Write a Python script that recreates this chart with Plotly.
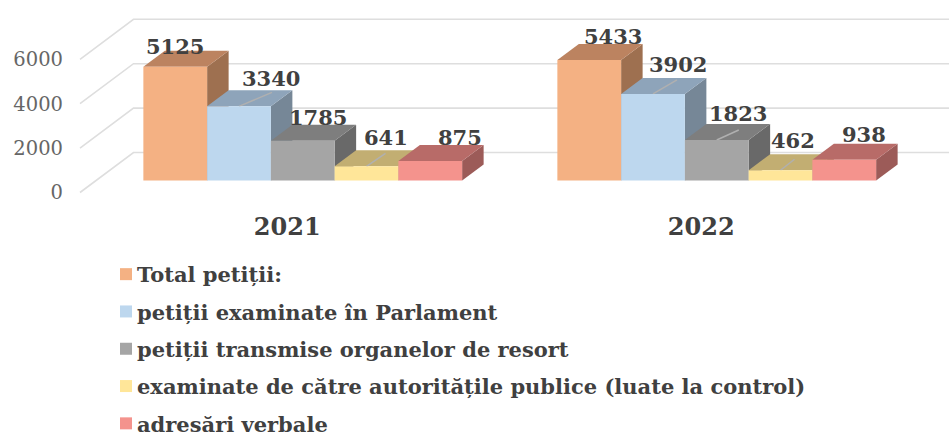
import plotly.graph_objects as go

years = ["2021", "2022"]
series_names = [
    "Total petiții:",
    "petiții examinate în Parlament",
    "petiții transmise organelor de resort",
    "examinate de către autoritățile publice (luate la control)",
    "adresări verbale",
]
total = [5125, 5433]
parlament = [3340, 3902]
resort = [1785, 1823]
autoritati = [641, 462]
verbale = [875, 938]
series_values = [total, parlament, resort, autoritati, verbale]
y_ticks = [0, 2000, 4000, 6000]

front_colors = ["#F4B183", "#BDD7EE", "#A5A5A5", "#FFE699", "#F4938D"]
top_colors = ["#BC8360", "#8EA4BA", "#7E7E7E", "#C2AE72", "#B86B68"]
side_colors = ["#9E7050", "#768797", "#696969", "#A5925F", "#9C5B58"]

# label nudges in px, per series and year
label_dx = [[0, 24], [32, 25], [15, 21], [19, 12], [30, 20]]
label_dy = [[20, 23], [28, 29], [23, 27], [29, 30], [24, 25]]
# stray grey strokes on bar tops (px length), per series and year
streak_dx = [[0, 0], [33, 24], [0, 22], [19, 14], [0, 0]]
streak_dy = [[0, 0], [14, 14], [0, 10], [13, 11], [0, 0]]

W, H = 949, 439
LEFT, PLOT_BOTTOM = 64, 210
PX_PER_UNIT_X = 414.0
PX_PER_VALUE = 0.0222
CENTER0_PX = 302.75
ZERO_PX = 192.5

xr = [(LEFT - CENTER0_PX) / PX_PER_UNIT_X, (W - CENTER0_PX) / PX_PER_UNIT_X]
yr = [(ZERO_PX - PLOT_BOTTOM) / PX_PER_VALUE, ZERO_PX / PX_PER_VALUE]

def ux(px):
    return px / PX_PER_UNIT_X

def uy(px):
    return px / PX_PER_VALUE

bargap = 0.23
bw = (1 - bargap) / 5
floor_base = uy(12)
DX, DY = ux(21.5), uy(16)

shapes = []
# walls: oblique then horizontal gridlines
wall_dx, wall_dy = ux(53.5), uy(40)
for t in y_ticks:
    x0 = xr[0] + ux(16)
    shapes.append(dict(
        type="path", layer="below",
        path=f"M{x0},{t} L{x0 + wall_dx},{t + wall_dy} L{xr[1]},{t + wall_dy}",
        line=dict(color="#DEDEDE", width=1.6),
    ))

annotations = []
for gi in range(len(years)):
    for si, vals in enumerate(series_values):
        v = vals[gi]
        xl = gi + (si - 2.5) * bw
        xrr = xl + bw
        yb, yt = floor_base, floor_base + v
        shapes.append(dict(
            type="path", layer="below", line=dict(width=0), fillcolor=side_colors[si],
            path=f"M{xrr},{yb} L{xrr + DX},{yb + DY} L{xrr + DX},{yt + DY} L{xrr},{yt} Z",
        ))
        shapes.append(dict(
            type="path", layer="below", line=dict(width=0), fillcolor=top_colors[si],
            path=f"M{xl},{yt} L{xl + DX},{yt + DY} L{xrr + DX},{yt + DY} L{xrr},{yt} Z",
        ))
        if streak_dx[si][gi]:
            xc = xl + bw / 2
            shapes.append(dict(
                type="line", layer="below", x0=xc, y0=yt,
                x1=xc + ux(streak_dx[si][gi]), y1=yt + uy(streak_dy[si][gi]),
                line=dict(color="#B0B0B0", width=1.5),
            ))
        annotations.append(dict(
            x=xl + bw / 2, y=yt, xref="x", yref="y", text=f"{v}", showarrow=False,
            xshift=label_dx[si][gi], yshift=label_dy[si][gi],
            font=dict(family="DejaVu Serif", size=21, color="#404040", weight="bold"),
        ))

fig = go.Figure()
for si, vals in enumerate(series_values):
    fig.add_trace(go.Bar(
        x=[0, 1], y=vals, base=floor_base, name=series_names[si],
        marker=dict(color=front_colors[si], line=dict(width=0)),
        legendgroup=f"g{si}",
    ))

fig.update_layout(
    width=W, height=H,
    margin=dict(l=LEFT, r=0, t=0, b=H - PLOT_BOTTOM, autoexpand=False),
    paper_bgcolor="white", plot_bgcolor="rgba(0,0,0,0)",
    barmode="group", bargap=bargap, bargroupgap=0,
    showlegend=True,
    legend=dict(
        x=(97 - LEFT) / (W - LEFT), xanchor="left",
        y=(PLOT_BOTTOM - 254) / PLOT_BOTTOM, yanchor="top",
        traceorder="grouped", tracegroupgap=7,
        font=dict(family="DejaVu Serif", size=21, color="#404040", weight="bold"),
        bgcolor="rgba(0,0,0,0)",
    ),
    xaxis=dict(
        range=xr, showgrid=False, zeroline=False, showline=False, ticks="",
        tickmode="array", tickvals=[i - ux(15.5) for i in range(len(years))], ticktext=years,
        tickfont=dict(family="DejaVu Serif", size=24, color="#404040", weight="bold"),
    ),
    yaxis=dict(
        range=yr, showgrid=False, zeroline=False, showline=False, ticks="",
        tickmode="array", tickvals=y_ticks,
        tickfont=dict(family="DejaVu Serif", size=19.5, color="#666666"),
    ),
    shapes=shapes, annotations=annotations,
)
fig.write_html(
    "out.html",
    config=dict(displayModeBar=False),
    post_script=(
        "document.body.style.margin='0';document.body.style.overflow='hidden';"
        "document.querySelectorAll('.legendsymbols').forEach(function(e){"
        "e.setAttribute('transform','translate(9,0)');});"
    ),
)
